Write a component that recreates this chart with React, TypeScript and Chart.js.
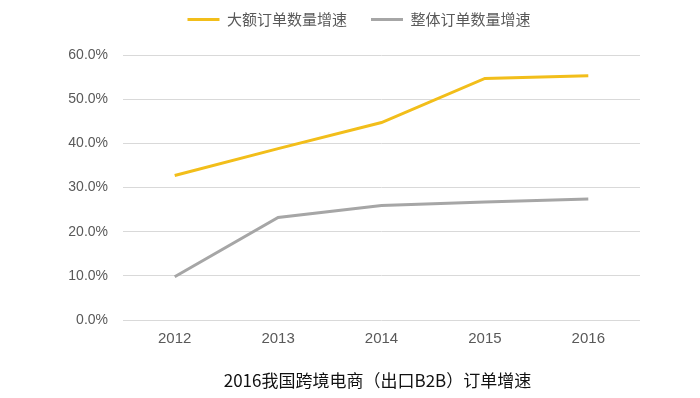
import React, { useEffect, useRef } from "react";
import { Chart, registerables } from "chart.js";

Chart.register(...registerables);

const years = ["2012", "2013", "2014", "2015", "2016"];
const largeOrderGrowth = [32.7, 38.8, 44.7, 54.7, 55.3];
const totalOrderGrowth = [9.8, 23.2, 25.9, 26.7, 27.4];
const seriesNames = ["大额订单数量增速", "整体订单数量增速"];
const chartTitle = "2016我国跨境电商（出口B2B）订单增速";
const yTicks = [0, 10, 20, 30, 40, 50, 60];

const YELLOW = "#F2BE1A";
const GRAY = "#A6A6A6";

const bottomTitle = {
  id: "bottomTitle",
  afterDraw(chart: any) {
    const { ctx, chartArea } = chart;
    ctx.save();
    ctx.font = "17px 'Noto Sans CJK SC', sans-serif";
    ctx.fillStyle = "#111111";
    ctx.textAlign = "center";
    ctx.textBaseline = "middle";
    ctx.fillText(chartTitle, (chartArea.left + chartArea.right) / 2 - 4, chartArea.bottom + 61);
    ctx.restore();
  },
};

export default function App() {
  const ref = useRef<HTMLCanvasElement>(null);
  useEffect(() => {
    if (!ref.current) return;
    const chart = new Chart(ref.current, {
      type: "line",
      data: {
        labels: years,
        datasets: [
          {
            label: seriesNames[0],
            data: largeOrderGrowth,
            borderColor: YELLOW,
            backgroundColor: YELLOW,
            borderWidth: 3,
            pointRadius: 0,
            tension: 0,
          },
          {
            label: seriesNames[1],
            data: totalOrderGrowth,
            borderColor: GRAY,
            backgroundColor: GRAY,
            borderWidth: 3,
            pointRadius: 0,
            tension: 0,
          },
        ],
      },
      options: {
        responsive: false,
        animation: false,
        layout: { padding: { left: 18, right: 0, top: -12, bottom: 0 } },
        plugins: {
          title: { display: false },
          tooltip: { enabled: false },
          legend: {
            position: "top",
            labels: {
              boxWidth: 32,
              boxHeight: 3,
              padding: 24,
              color: "#595959",
              font: { size: 15, family: "'Noto Sans CJK SC', sans-serif" },
              generateLabels: (c: any) =>
                Chart.defaults.plugins.legend.labels
                  .generateLabels(c)
                  .map((l: any) => ({ ...l, lineWidth: 0 })),
            },
          },
        },
        scales: {
          x: {
            offset: true,
            grid: { display: false, drawTicks: false },
            border: { display: false },
            ticks: {
              padding: 10,
              color: "#595959",
              font: { size: 15, family: "'Liberation Sans', Arial, sans-serif" },
            },
            afterFit: (s: any) => {
              s.height = 78;
            },
          },
          xTopSpacer: {
            type: "category",
            position: "top",
            grid: { display: false, drawTicks: false },
            border: { display: false },
            ticks: { display: false },
            afterFit: (s: any) => {
              s.height = 18;
            },
          },
          y: {
            min: 0,
            max: 60,
            afterBuildTicks: (s: any) => {
              s.ticks = yTicks.map((v) => ({ value: v }));
            },
            grid: { color: "#D9D9D9", lineWidth: 1, drawTicks: false },
            border: { display: false },
            ticks: {
              padding: 15,
              color: "#595959",
              font: { size: 14, family: "'Liberation Sans', Arial, sans-serif" },
              callback: (v: any) => Number(v).toFixed(1) + "%",
            },
            afterFit: (s: any) => {
              s.width = 105;
            },
          },
          yRightSpacer: {
            type: "linear",
            position: "right",
            grid: { display: false, drawTicks: false },
            border: { display: false },
            ticks: { display: false },
            afterFit: (s: any) => {
              s.width = 60;
            },
          },
        },
      },
      plugins: [bottomTitle],
    });
    return () => chart.destroy();
  }, []);
  return (
    <canvas
      ref={ref}
      width={700}
      height={398}
      style={{ position: "fixed", left: 0, top: 0, display: "block", background: "#fff" }}
    />
  );
}
